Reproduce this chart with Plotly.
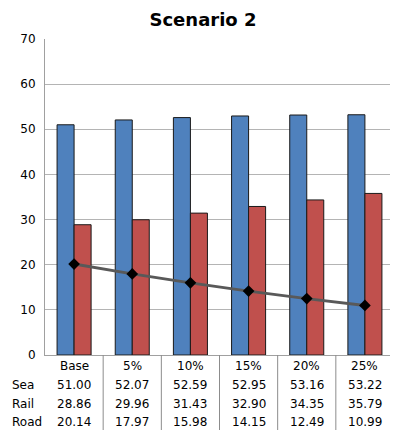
import plotly.graph_objects as go

categories = ["Base", "5%", "10%", "15%", "20%", "25%"]
sea = [51.00, 52.07, 52.59, 52.95, 53.16, 53.22]
rail = [28.86, 29.96, 31.43, 32.90, 34.35, 35.79]
road = [20.14, 17.97, 15.98, 14.15, 12.49, 10.99]
row_names = ["Sea", "Rail", "Road"]
y_ticks = [0, 10, 20, 30, 40, 50, 60, 70]

FONT = "DejaVu Sans"
W, H = 390, 426  # page body has an 8px margin
fig = go.Figure()
fig.add_trace(go.Bar(x=categories, y=sea, name="Sea",
                     marker=dict(color="#4F81BD", line=dict(color="#1a1a1a", width=1))))
fig.add_trace(go.Bar(x=categories, y=rail, name="Rail",
                     marker=dict(color="#C0504D", line=dict(color="#1a1a1a", width=1))))
fig.add_trace(go.Scatter(x=categories, y=road, name="Road", mode="lines+markers",
                         line=dict(color="#595959", width=3),
                         marker=dict(symbol="diamond", color="black", size=9)))

annotations = []
rows = [sea, rail, road]
for i, c in enumerate(categories):
    annotations.append(dict(x=c, xref="x", y=0, yref="paper", yshift=-11, text=c,
                            showarrow=False, font=dict(family=FONT, size=12, color="black"),
                            yanchor="middle"))
    for r, vals in enumerate(rows):
        annotations.append(dict(x=c, xref="x", y=0, yref="paper", yshift=-30 - 18.5 * r,
                                text=f"{vals[i]:.2f}", showarrow=False,
                                font=dict(family=FONT, size=12, color="black"),
                                yanchor="middle"))
for r, name in enumerate(row_names):
    annotations.append(dict(x=0, xref="paper", xshift=-35, xanchor="left", y=0, yref="paper",
                            yshift=-30 - 18.5 * r, text=name, showarrow=False,
                            font=dict(family=FONT, size=12, color="black"), yanchor="middle"))

shapes = []
for i in range(len(categories) - 1):
    shapes.append(dict(type="line", xref="x", yref="paper", x0=i + 0.5, x1=i + 0.5,
                       y0=0, y1=-75 / 316, line=dict(color="#8c8c8c", width=1)))

fig.update_layout(
    width=W, height=H,
    margin=dict(l=37, r=4, t=31, b=79),
    paper_bgcolor="white", plot_bgcolor="white",
    showlegend=False,
    barmode="group", bargap=0.415, bargroupgap=0,
    title=dict(text="<b>Scenario 2</b>", x=0.5, xref="container", xanchor="center",
               y=1 - 5 / H, yref="container", yanchor="top",
               font=dict(family=FONT, size=18, color="black")),
    annotations=annotations, shapes=shapes,
    font=dict(family=FONT, size=12, color="black"),
)
fig.update_xaxes(showticklabels=False, showline=True, linecolor="#a0a0a0", linewidth=1,
                 showgrid=False, ticks="")
fig.update_yaxes(range=[0, 70], tickvals=y_ticks, showline=True, linecolor="#a0a0a0",
                 linewidth=1, showgrid=True, gridcolor="#b4b4b4", gridwidth=1,
                 zeroline=False, ticks="", ticklabelstandoff=6,
                 tickfont=dict(family=FONT, size=12, color="black"))

fig.write_html("out.html")
